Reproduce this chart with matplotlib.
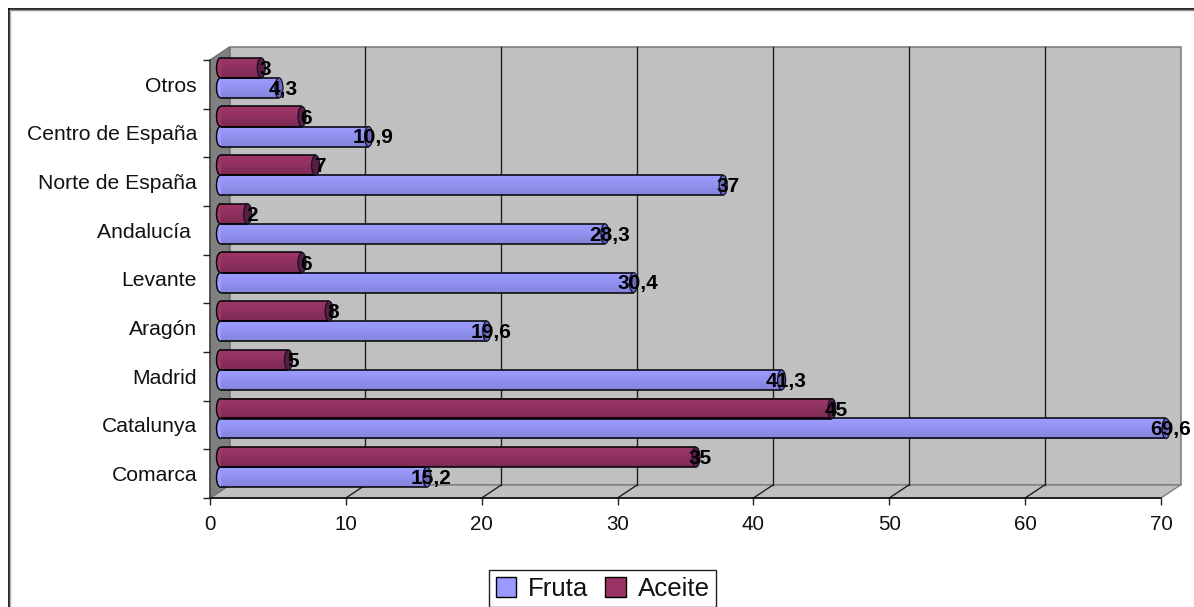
import matplotlib
matplotlib.use("Agg")
import matplotlib.pyplot as plt
from matplotlib.patches import Ellipse, Patch
from matplotlib.lines import Line2D
from matplotlib.transforms import Affine2D
import numpy as np

categories = ["Comarca", "Catalunya", "Madrid", "Aragón", "Levante", "Andalucía ",
              "Norte de España", "Centro de España", "Otros"]
fruta = [15.2, 69.6, 41.3, 19.6, 30.4, 28.3, 37, 10.9, 4.3]
aceite = [35, 45, 5, 8, 6, 2, 7, 6, 3]
fruta_labels = ["15,2", "69,6", "41,3", "19,6", "30,4", "28,3", "37", "10,9", "4,3"]
aceite_labels = ["35", "45", "5", "8", "6", "2", "7", "6", "3"]
xticks = [0, 10, 20, 30, 40, 50, 60, 70]

W, H = 1194, 607
plt.rcParams['font.family'] = ['Liberation Sans', 'DejaVu Sans']
fig = plt.figure(figsize=(W / 100, H / 100), dpi=100, facecolor='white')
ax = fig.add_axes([210 / W, (H - 498) / H, (1161 - 210) / W, (498 - 60) / H])
ax.set_xlim(0, 70)
ax.set_ylim(-0.5, 8.5)
ax.patch.set_visible(False)
for s in ax.spines.values():
    s.set_visible(False)

px_x = (1161 - 210) / 70
px_y = (498 - 60) / 9
dx = 19.5 / px_x
dy = 13 / px_y
WALL = '#C0C0C0'
EDGE = '#808080'

# Back wall, floor, side wall
ax.fill([dx, 70 + dx, 70 + dx, dx], [-.5 + dy, -.5 + dy, 8.5 + dy, 8.5 + dy],
        fc=WALL, ec=EDGE, lw=1.2, clip_on=False, zorder=1)
ax.fill([0, 70, 70 + dx, dx], [-.5, -.5, -.5 + dy, -.5 + dy],
        fc=WALL, ec=EDGE, lw=1, clip_on=False, zorder=1)
ax.fill([0, dx, dx, 0], [-.5, -.5 + dy, 8.5 + dy, 8.5],
        fc='#808080', ec='#707070', lw=1, clip_on=False, zorder=1.1)

# Gridlines on wall and floor
for t in xticks[1:-1]:
    ax.plot([t + dx, t + dx], [-.5 + dy, 8.5 + dy], color='#202020', lw=1, clip_on=False, zorder=1.2)
    ax.plot([t, t + dx], [-.5, -.5 + dy], color='#202020', lw=1, clip_on=False, zorder=1.2)

# Axis lines
ax.plot([0, 70], [-.5, -.5], color='black', lw=1.1, clip_on=False, zorder=1.3)
ax.plot([0, 0], [-.5, 8.5], color='#404040', lw=1.1, clip_on=False, zorder=1.3)

ax.set_xticks(xticks)
ax.set_xticklabels([str(t) for t in xticks])
ax.set_yticks(np.arange(-0.5, 9, 1))
ax.set_yticklabels([])
ax.tick_params(axis='x', length=5, width=1, color='#202020', labelsize=14.8, pad=7, labelcolor='#111111')
ax.tick_params(axis='y', length=5, width=1, color='#202020')
for i, c in enumerate(categories):
    ax.annotate(c, xy=(0, i), xycoords='data', xytext=(-13, -2), textcoords='offset pixels',
                ha='right', va='center', fontsize=15.2, color='#111111', annotation_clip=False)

# Bars drawn as shaded cylinders
shift = ax.transData + Affine2D().translate(10.5, 6.5)
bh = 20 / px_y
N = 12


def cylinder(y, val, top, bottom, cap, label):
    c0, c1 = np.array(matplotlib.colors.to_rgb(top)), np.array(matplotlib.colors.to_rgb(bottom))
    cw = 8 / px_x
    ax.add_patch(Ellipse((0, y), cw, bh, fc=top, ec='black', lw=1, transform=shift, clip_on=False, zorder=3))
    for k in range(N):
        f = k / (N - 1)
        yy = y + bh / 2 - (k + .5) * bh / N
        ax.barh(yy, val, height=bh / N + 0.003, color=c0 + (c1 - c0) * f, lw=0,
                transform=shift, clip_on=False, zorder=3.1)
    ax.hlines([y - bh / 2, y + bh / 2], 0, val, color='black', lw=1.1, transform=shift, clip_on=False, zorder=3.2)
    ax.add_patch(Ellipse((val, y), cw, bh, fc=cap, ec='#101030', lw=0.9, transform=shift, clip_on=False, zorder=3.3))
    ax.annotate(label, xy=(val, y), xycoords=shift, xytext=(4.5, -1.5), textcoords='offset pixels',
                ha='center', va='center', fontsize=15, fontweight='bold', color='black',
                annotation_clip=False, zorder=5)


for i in range(len(categories)):
    cylinder(i - bh / 2, fruta[i], '#9C9CFF', '#8585DE', '#6A6AB8', fruta_labels[i])
    cylinder(i + bh / 2, aceite[i], '#9E3669', '#7F2A55', '#5A1F3E', aceite_labels[i])

# Outer frame of the embedded chart
fig.add_artist(Line2D([8.5 / W, 8.5 / W], [0, 1 - 8.5 / H], color='black', lw=1.2))
fig.add_artist(Line2D([8.5 / W, 1], [1 - 8.5 / H, 1 - 8.5 / H], color='black', lw=1.2))
fig.add_artist(Line2D([10 / W, 1], [1 - 10 / H, 1 - 10 / H], color='#909090', lw=1))
fig.add_artist(Line2D([10 / W, 10 / W], [0, 1 - 10 / H], color='#B0B0B0', lw=1))

# Legend
handles = [Patch(fc='#9999FF', ec='black', lw=1), Patch(fc='#993366', ec='black', lw=1)]
leg = fig.legend(handles, ["Fruta", "Aceite"], ncol=2, loc='upper left',
                 bbox_to_anchor=(489 / W, 1 - 570 / H), borderaxespad=0, fontsize=18.6,
                 frameon=True, fancybox=False, edgecolor='#222222', framealpha=1,
                 handlelength=0.8, handleheight=0.8, handletextpad=0.45, columnspacing=0.65,
                 borderpad=0.26, labelcolor='#111111')
leg.get_frame().set_linewidth(1)

fig.savefig('out.png', dpi=100)
